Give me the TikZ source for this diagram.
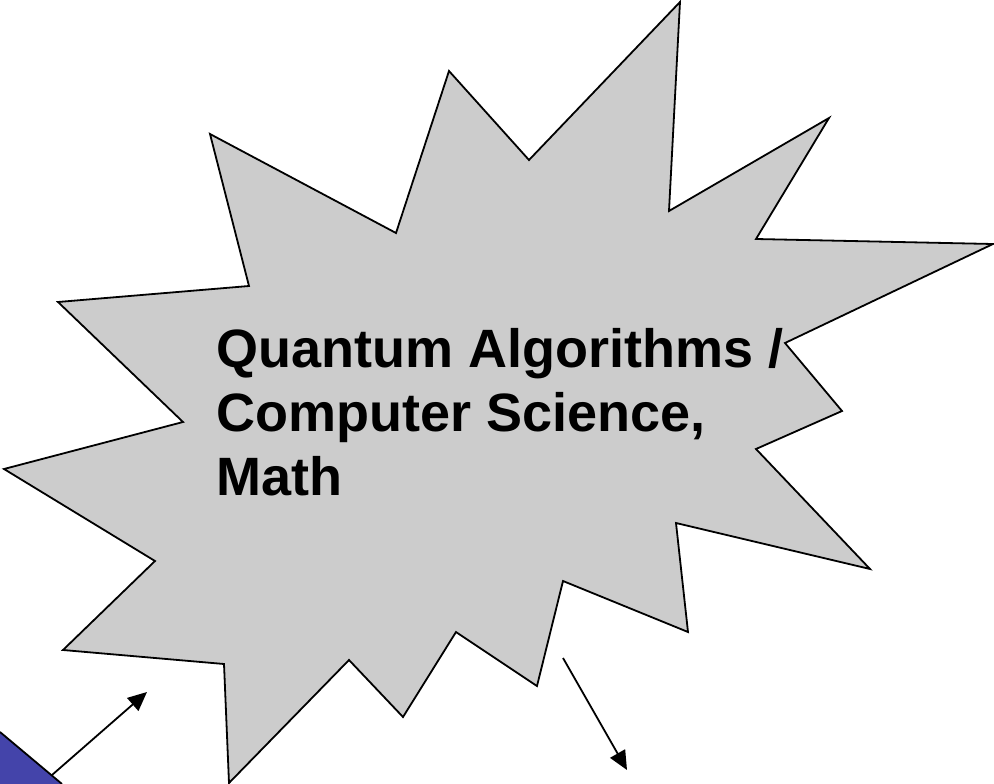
\documentclass[tikz,border=0pt]{standalone}
\usepackage{fontspec}
\setmainfont{Liberation Sans}
\usetikzlibrary{arrows.meta}

\definecolor{burstgray}{HTML}{CCCCCC}
\definecolor{boxblue}{RGB}{68,68,170}

\begin{document}
\begin{tikzpicture}[
  x=1pt, y=-1pt,
  burst/.style={draw, line width=1.8pt, line join=miter, fill=burstgray},
  label/.style={anchor=base west, align=left, inner sep=0pt, font=\fontsize{54}{64}\selectfont\bfseries},
  arr/.style={-{Triangle[length=19pt, width=17pt]}, line width=1.8pt}
]
\useasboundingbox (0,0) rectangle (994,784);

% blue box peeking in at the corner
\fill[boxblue] (0,732) -- (62,784) -- (0,784) -- cycle;
\draw[line width=1.8pt] (0,732) -- (62,784);

% the starburst
\draw[burst] (680,2) -- (669,211) -- (829,118) -- (756,239) -- (993,244)
  -- (785,343) -- (842,411) -- (756,449) -- (870,569) -- (676,523)
  -- (688,632) -- (563,581) -- (537,686) -- (456,632) -- (403,717)
  -- (349,660) -- (229,783) -- (224,664) -- (63,650) -- (155,561)
  -- (4,469) -- (183,422) -- (58,302) -- (249,286) -- (210,134)
  -- (396,233) -- (449,71) -- (529,160) -- cycle;

% base anchor sits on the last line
\node[label] (topic) at (216,495) {Quantum Algorithms /\\Computer Science,\\Math};

% arrows
\coordinate (boxcorner) at (52,775);
\coordinate (inpoint) at (147,692);
\coordinate (outstart) at (563,658);
\coordinate (outpoint) at (627,770);
\draw[arr] (boxcorner) -- (inpoint);
\draw[arr] (outstart) -- (outpoint);
\end{tikzpicture}
\end{document}
